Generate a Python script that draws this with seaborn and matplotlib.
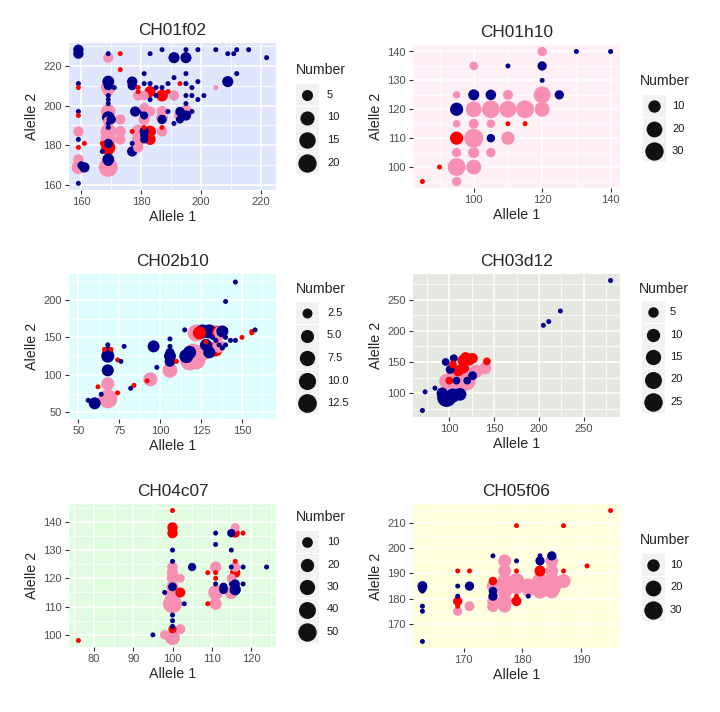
import numpy as np
import pandas as pd
import matplotlib.pyplot as plt
import seaborn as sns
from matplotlib.patches import Rectangle
from matplotlib.ticker import MultipleLocator

# group codes: N = navy, R = red, P = pink
ch01f02_x = [159,159,159,159,159,159,159,159,159,159,
             159,161,160,159,161,169,169,169,169,169,
             169,169,169,169,169,169,169,169,169,169,
             169,169,169,169,169,169,169,169,169,167,
             167,171,170,173,173,173,173,173,177,177,
             178,177,177,177,179,179,179,179,179,179,
             179,179,181,181,181,181,181,181,181,181,
             181,181,181,183,183,183,183,183,183,183,
             185,185,187,187,187,187,187,187,187,187,
             189,189,189,191,191,191,191,193,193,193,
             193,195,195,195,195,195,195,195,195,197,
             197,197,199,199,199,201,205,205,209,209,
             211,212,212,216,222]
ch01f02_y = [228,226,211,209,197,195,187,183,179,173,
             169,169,170,161,181,226,224,209,212,210,
             207,205,203,201,197,195,194,192,191,189,
             187,185,183,181,179,178,173,172,169,177,
             181,209,193,193,187,183,226,218,212,210,
             197,187,181,177,209,207,205,187,185,183,
             181,179,216,211,205,197,199,195,193,189,
             187,185,183,226,211,203,207,197,187,183,
             209,205,228,209,205,197,194,193,187,189,
             207,211,197,224,214,205,191,211,197,193,
             195,195,197,228,224,216,211,205,201,209,
             205,197,228,212,203,205,228,209,212,226,
             226,228,216,228,224]
ch01f02_n = [4,4,1,1,1,1,4,1,1,4,
             9,4,2,1,1,1,4,11,6,3,
             4,1,1,1,11,8,7,4,1,1,
             13,6,13,3,10,6,6,3,22,1,
             1,1,3,4,5,4,1,1,4,3,
             4,1,1,4,1,1,4,9,5,7,
             4,4,1,1,3,4,3,2,5,1,
             3,2,2,1,1,1,5,4,6,5,
             1,1,1,1,6,5,6,3,4,1,
             1,1,1,5,1,4,1,1,3,2,
             6,4,8,1,5,1,1,1,1,1,
             1,1,1,1,1,1,1,1,5,1,
             1,1,1,1,1]
ch01f02_g = list("NNNRNRPNRP" "PNNNRNPPNN" "PNNNPPNPNN" "PPPNRRNNPN"
                 "RNNPPPRRNN" "NRNNRRPPPP" "PPNNPNPNPR" "NNNNNNRPRR"
                 "NNNNRPPNPR" "RNNNNPNRNN" "PNPNNNNNNN" "NNNNNNNPNN" "NNNNN")

ch01h10_x = [85,90,95,95,95,95,95,95,95,100,
             100,100,100,100,100,100,105,105,105,105,
             105,110,110,110,110,110,115,115,120,120,
             120,120,120,125,130,140]
ch01h10_y = [95,100,95,100,105,110,115,120,125,100,
             105,110,115,120,125,135,105,110,115,120,
             125,110,115,120,125,135,115,120,120,125,
             130,135,140,125,140,140]
ch01h10_n = [1,1,4,28,4,12,2,12,2,17,
             7,33,5,20,7,3,4,3,3,27,
             6,12,1,24,5,1,1,28,17,24,
             1,4,4,4,1,1]
ch01h10_g = list("RRPPPRPNPP" "PPPPNPPNPP" "NPRPPNRPPP" "NNPNNN")

ch02b10_x = [56,60,62,64,68,68,68,68,68,68,
             68,66,70,74,76,74,78,82,84,92,
             94,96,98,106,106,106,106,106,106,110,
             115,116,118,118,122,120,122,124,126,128,
             126,130,128,128,132,134,136,137,138,140,
             140,130,132,134,136,136,138,140,134,143,
             146,150,156,156,158,140,146]
ch02b10_y = [66,62,84,74,68,88,106,125,130,134,
             140,134,134,120,118,76,138,82,86,92,
             94,138,110,106,118,125,130,138,148,118,
             160,125,130,118,120,130,156,156,130,134,
             158,158,140,144,150,156,156,156,158,150,
             160,130,134,134,138,140,136,140,146,146,
             146,150,156,158,160,198,224]
ch02b10_n = [1,4,1,1,13,5,4,5,3,1,
             1,1,1,1,1,1,1,1,1,1,
             6,4,1,7,3,4,2,1,1,1,
             1,6,5,12,13,10,10,5,9,8,
             6,6,4,1,1,8,6,6,4,1,
             1,4,8,6,5,1,1,1,1,1,
             1,1,1,1,1,1,1]
ch02b10_g = list("NNRNPPNNNN" "NRRRNRNNRR" "PNNPNNNNNR" "NNNPPPPRPP"
                 "NNNRNPRPNN" "NNPRPNNNNN" "NRRRNNN")

ch03d12_x = [70,73,84,96,105,101,97,112,104,92,
             97,108,119,112,104,130,140,124,100,116,
             110,116,116,122,126,118,142,100,104,120,
             126,108,205,211,224,280]
ch03d12_y = [72,102,108,150,156,138,93,98,96,100,
             119,104,119,126,128,135,140,130,110,138,
             136,140,152,154,156,158,151,120,146,120,
             128,120,209,215,232,281]
ch03d12_n = [1,1,1,2,2,3,27,9,12,6,
             14,13,25,16,12,10,8,12,14,8,
             6,5,8,8,5,4,2,2,2,2,
             3,2,1,1,1,1]
ch03d12_g = list("NNNNNNNNNN" "PPPPPPPPPP" "RRRRRRRRRN" "NNNNNN")

ch04c07_x = [76,95,98,100,102,100,100,100,100,100,
             100,100,100,100,100,100,98,100,100,102,
             102,103,100,100,100,105,109,109,111,111,
             111,111,111,111,111,111,113,113,115,115,
             115,115,115,115,116,116,116,116,116,116,
             116,118,118,118,124]
ch04c07_y = [98,100,100,99,102,102,103,105,107,111,
             114,117,120,122,124,117,115,126,130,115,
             120,111,136,138,144,124,111,122,111,115,
             124,118,120,122,132,136,116,117,115,120,
             118,124,130,136,116,118,124,122,136,138,
             126,136,124,118,124]
ch04c07_n = [1,1,6,28,8,4,1,1,1,55,
             25,15,12,12,9,5,1,1,1,8,
             5,1,9,9,1,4,1,1,15,28,
             12,1,1,1,1,1,5,4,20,6,
             1,1,1,4,12,6,8,9,6,5,
             1,1,1,1,1]
ch04c07_g = list("RNPPPRNNNP" "PPPPPNNNNR" "PNRRRNRRPP" "PNRRNNNNPP"
                 "NNNNNNPRRP" "RRNNN")

ch05f06_x = [163,163,163,163,163,163,169,169,169,169,
             169,169,171,171,171,175,175,175,175,175,
             175,175,177,177,177,177,177,177,177,179,
             179,179,179,179,179,181,181,181,179,183,
             183,183,183,183,183,185,185,185,185,185,
             185,187,187,187,191,195]
ch05f06_y = [163,175,177,185,184,183,191,185,181,179,
             177,175,191,185,177,197,187,185,183,181,
             179,177,195,191,187,185,183,179,177,185,
             187,195,191,179,181,181,185,183,209,197,
             195,191,185,187,183,197,195,191,187,185,
             183,187,191,209,193,215]
ch05f06_n = [1,1,1,5,3,1,1,1,1,4,
             1,4,1,4,5,1,3,10,3,4,
             8,8,11,11,16,25,18,16,11,20,
             20,1,1,5,1,1,18,8,1,1,
             4,7,30,20,18,4,11,11,20,33,
             16,14,1,1,1,1]
ch05f06_g = list("NNNNNNRNNR" "RPRNPNRPNN" "PPPPPPPPPP" "PNRRRNPPRN"
                 "NRPPPNPPPP" "PPRRRR")

group_colors = {'N': '#00008B', 'R': '#FF0000', 'P': '#F78FB3'}

panels = [
    dict(title='CH01f02', x=ch01f02_x, y=ch01f02_y, n=ch01f02_n, g=ch01f02_g, nmax=22,
         box=(69, 43, 276, 190), bg='#E0E7FD', xmaj=20, ymaj=20, lims=None,
         keys=[5, 10, 15, 20], keylab=['5', '10', '15', '20'], leg=(296, 70, 95, 307, 327)),
    dict(title='CH01h10', x=ch01h10_x, y=ch01h10_y, n=ch01h10_n, g=ch01h10_g, nmax=33,
         box=(413, 45, 620, 188), bg='#FFF0F5', xmaj=20, ymaj=10, lims=None,
         keys=[10, 20, 30], keylab=['10', '20', '30'], leg=(640, 81, 106, 654, 672)),
    dict(title='CH02b10', x=ch02b10_x, y=ch02b10_y, n=ch02b10_n, g=ch02b10_g, nmax=13,
         box=(69, 274, 276, 419), bg='#DEFEFE', xmaj=25, ymaj=50,
         lims=((44.3, 170.8), (41, 234.7)),
         keys=[2.5, 5, 7.5, 10, 12.5], keylab=['2.5', '5.0', '7.5', '10.0', '12.5'],
         leg=(296, 289, 313, 307, 327)),
    dict(title='CH03d12', x=ch03d12_x, y=ch03d12_y, n=ch03d12_n, g=ch03d12_g, nmax=27,
         box=(413, 274, 620, 417), bg='#E4E8E1', xmaj=50, ymaj=50, lims=None,
         keys=[5, 10, 15, 20, 25], keylab=['5', '10', '15', '20', '25'],
         leg=(639, 289, 312, 653, 670)),
    dict(title='CH04c07', x=ch04c07_x, y=ch04c07_y, n=ch04c07_n, g=ch04c07_g, nmax=55,
         box=(69, 504, 276, 647), bg='#E2FCE2', xmaj=10, ymaj=10, lims=None,
         keys=[10, 20, 30, 40, 50], keylab=['10', '20', '30', '40', '50'],
         leg=(296, 517, 542, 307, 327)),
    dict(title='CH05f06', x=ch05f06_x, y=ch05f06_y, n=ch05f06_n, g=ch05f06_g, nmax=33,
         box=(413, 504, 620, 648), bg='#FFFFDC', xmaj=10, ymaj=10, lims=None,
         keys=[10, 20, 30], keylab=['10', '20', '30'], leg=(640, 540, 565, 653, 670)),
]

W, H = 720, 712


def diam(n, nmax):
    # ggplot-like area scale, diameter in pixels
    return 5 + 14 * np.sqrt(max(n - 1, 0) / (nmax - 1))


def area(d):
    return (d * 72 / 100) ** 2


sns.set_style('white')
plt.rcParams['font.family'] = ['Liberation Sans', 'DejaVu Sans']

fig = plt.figure(figsize=(7.2, 7.12), dpi=100)

for p in panels:
    l, t, r, b = p['box']
    ax = fig.add_axes([l / W, 1 - b / H, (r - l) / W, (b - t) / H])
    df = pd.DataFrame({'Allele 1': p['x'], 'Alelle 2': p['y'],
                       'Number': p['n'], 'grp': p['g']})
    df = df.sort_values('Number', ascending=False, kind='stable')
    sizes = {v: area(diam(v, p['nmax'])) for v in df['Number'].unique()}
    sns.scatterplot(data=df, x='Allele 1', y='Alelle 2', hue='grp', palette=group_colors,
                    size='Number', sizes=sizes, linewidth=0, alpha=1, legend=False, ax=ax)
    if p['lims'] is not None:
        ax.set_xlim(*p['lims'][0])
        ax.set_ylim(*p['lims'][1])
    ax.set_facecolor(p['bg'])
    ax.xaxis.set_major_locator(MultipleLocator(p['xmaj']))
    ax.xaxis.set_minor_locator(MultipleLocator(p['xmaj'] / 2))
    ax.yaxis.set_major_locator(MultipleLocator(p['ymaj']))
    ax.yaxis.set_minor_locator(MultipleLocator(p['ymaj'] / 2))
    ax.grid(True, which='major', color='white', lw=1.1)
    ax.grid(True, which='minor', color='white', lw=0.55)
    ax.set_axisbelow(True)
    for s in ax.spines.values():
        s.set_visible(False)
    ax.tick_params(which='major', direction='out', length=3, width=0.8, color='#333333',
                   labelcolor='#4D4D4D', labelsize=8, pad=2, bottom=True, left=True)
    ax.tick_params(which='minor', length=0)
    ax.set_title(p['title'], fontsize=12.4, pad=6)
    ax.set_xlabel('Allele 1', fontsize=10.3, labelpad=2)
    ax.set_ylabel('Alelle 2', fontsize=10.3, labelpad=3)

# size legends, drawn in pixel coordinates
lax = fig.add_axes([0, 0, 1, 1])
lax.set_xlim(0, W)
lax.set_ylim(H, 0)
lax.axis('off')
for p in panels:
    tx, ty, ky0, kx, lx = p['leg']
    lax.text(tx, ty, 'Number', fontsize=10.1, ha='left', va='center')
    for i, (k, lab) in enumerate(zip(p['keys'], p['keylab'])):
        ky = ky0 + i * 22.5
        lax.add_patch(Rectangle((kx - 11.5, ky - 11), 23, 22, facecolor='#F2F2F2',
                                edgecolor='none'))
        lax.scatter([kx], [ky], s=area(diam(k, p['nmax'])), color='#111111', linewidths=0)
        lax.text(lx, ky, lab, fontsize=8, ha='left', va='center', color='#1A1A1A')

fig.savefig('out.png', dpi=100)
